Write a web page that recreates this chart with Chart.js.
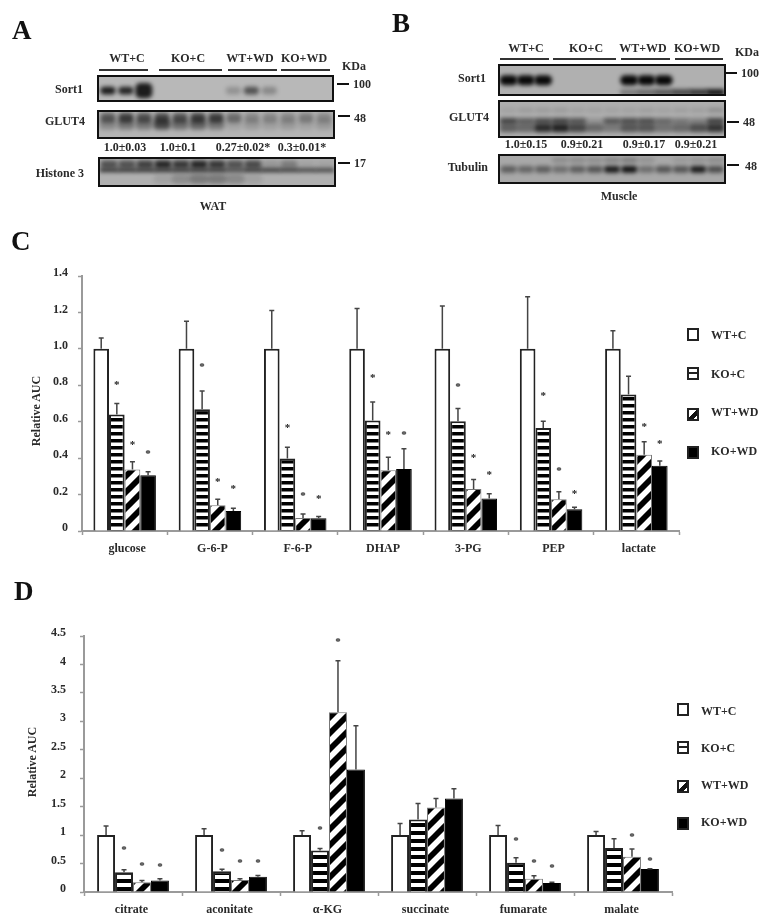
<!DOCTYPE html>
<html>
<head>
<meta charset="utf-8">
<title>Sort1 figure</title>
<script src="https://cdn.jsdelivr.net/npm/chart.js@4"></script>
<style>
html, body { margin: 0; padding: 0; background: #fff; }
#page { position: relative; width: 776px; height: 923px; overflow: hidden; filter: blur(0.6px); font-family: "Liberation Serif", serif; font-weight: bold; font-size: 12px; color: #2a2a2a; }
#page canvas { position: absolute; }
.t { position: absolute; white-space: nowrap; line-height: 1; }
.c { transform: translate(-50%, -50%); }
.r { transform: translate(-100%, -50%); }
.l { transform: translateY(-50%); }
.letter { font-size: 27px; color: #111; }
.bar { position: absolute; height: 2px; background: #333; }
.tick { position: absolute; height: 2px; width: 12px; background: #111; }
.blot { position: absolute; border: 2px solid #111; box-sizing: border-box; overflow: hidden; }
.blot canvas { position: absolute; left: 0; top: 0; }
.ytitle { position: absolute; transform: translate(-50%, -50%) rotate(-90deg); white-space: nowrap; line-height: 1; }
.sw { position: absolute; width: 12px; height: 13px; box-sizing: border-box; border: 2px solid #222; background: #fff; }
.sw1 { background: linear-gradient(#fff 0 35%, #222 35% 60%, #fff 60%); }
.sw2 { background: linear-gradient(135deg, #fff 0 42%, #111 42% 78%, #fff 78%); }
.sw3 { background: #000; }
</style>
</head>
<body>
<div id="page">
  <div class="t letter l" style="left:12px;top:30px">A</div>
  <div class="t letter l" style="left:392px;top:23px">B</div>
  <div class="t letter l" style="left:11px;top:241px">C</div>
  <div class="t letter l" style="left:14px;top:591px">D</div>

  <div class="t c" style="left:127px;top:58px">WT+C</div>
  <div class="t c" style="left:188px;top:58px">KO+C</div>
  <div class="t c" style="left:250px;top:58px">WT+WD</div>
  <div class="t c" style="left:304px;top:58px">KO+WD</div>
  <div class="bar" style="left:99px;top:69px;width:49px"></div>
  <div class="bar" style="left:159px;top:69px;width:63px"></div>
  <div class="bar" style="left:228px;top:69px;width:49px"></div>
  <div class="bar" style="left:281px;top:69px;width:49px"></div>
  <div class="t l" style="left:342px;top:66px">KDa</div>
  <div class="t r" style="left:83px;top:89px">Sort1</div>
  <div class="t r" style="left:85px;top:121px">GLUT4</div>
  <div class="t r" style="left:84px;top:173px">Histone 3</div>
  <div class="tick" style="left:337px;top:83px"></div>
  <div class="tick" style="left:338px;top:115px"></div>
  <div class="tick" style="left:338px;top:162px"></div>
  <div class="t l" style="left:353px;top:84px">100</div>
  <div class="t l" style="left:354px;top:118px">48</div>
  <div class="t l" style="left:354px;top:163px">17</div>
  <div class="t c" style="left:125px;top:147px">1.0±0.03</div>
  <div class="t c" style="left:178px;top:147px">1.0±0.1</div>
  <div class="t c" style="left:243px;top:147px">0.27±0.02*</div>
  <div class="t c" style="left:302px;top:147px">0.3±0.01*</div>
  <div class="t c" style="left:213px;top:206px">WAT</div>

  <div class="t c" style="left:526px;top:48px">WT+C</div>
  <div class="t c" style="left:586px;top:48px">KO+C</div>
  <div class="t c" style="left:643px;top:48px">WT+WD</div>
  <div class="t c" style="left:697px;top:48px">KO+WD</div>
  <div class="bar" style="left:500px;top:58px;width:49px"></div>
  <div class="bar" style="left:553px;top:58px;width:63px"></div>
  <div class="bar" style="left:621px;top:58px;width:49px"></div>
  <div class="bar" style="left:675px;top:58px;width:48px"></div>
  <div class="t l" style="left:735px;top:52px">KDa</div>
  <div class="t r" style="left:486px;top:78px">Sort1</div>
  <div class="t r" style="left:489px;top:117px">GLUT4</div>
  <div class="t r" style="left:488px;top:167px">Tubulin</div>
  <div class="tick" style="left:725px;top:72px"></div>
  <div class="tick" style="left:727px;top:121px"></div>
  <div class="tick" style="left:727px;top:164px"></div>
  <div class="t l" style="left:741px;top:73px">100</div>
  <div class="t l" style="left:743px;top:122px">48</div>
  <div class="t l" style="left:745px;top:166px">48</div>
  <div class="t c" style="left:526px;top:144px">1.0±0.15</div>
  <div class="t c" style="left:582px;top:144px">0.9±0.21</div>
  <div class="t c" style="left:644px;top:144px">0.9±0.17</div>
  <div class="t c" style="left:696px;top:144px">0.9±0.21</div>
  <div class="t c" style="left:619px;top:196px">Muscle</div>

  <div class="blot" id="blotA1" style="left:97px;top:75px;width:237px;height:27px;background:#b8b8b8"></div>
  <div class="blot" id="blotA2" style="left:97px;top:110px;width:238px;height:29px;background:#b4b4b4"></div>
  <div class="blot" id="blotA3" style="left:98px;top:157px;width:238px;height:30px;background:#b0b0b0"></div>
  <div class="blot" id="blotB1" style="left:498px;top:64px;width:228px;height:32px;background:#b0b0b0"></div>
  <div class="blot" id="blotB2" style="left:498px;top:100px;width:228px;height:38px;background:#aeaeae"></div>
  <div class="blot" id="blotB3" style="left:498px;top:154px;width:228px;height:30px;background:#a8a8a8"></div>

  <canvas id="chartC" width="776" height="320" style="left:0;top:250px;width:776px;height:320px"></canvas>
  <canvas id="chartD" width="776" height="340" style="left:0;top:583px;width:776px;height:340px"></canvas>

  <div class="ytitle" style="left:36px;top:411px">Relative AUC</div>
  <div class="ytitle" style="left:32px;top:762px">Relative AUC</div>

  <div id="legendC"></div>
  <div id="legendD"></div>
</div>

<script>
var seriesNames = ['WT+C', 'KO+C', 'WT+WD', 'KO+WD'];

// panel C
var labelsC = ['glucose', 'G-6-P', 'F-6-P', 'DHAP', '3-PG', 'PEP', 'lactate'];
var ticksC = [0, 0.2, 0.4, 0.6, 0.8, 1.0, 1.2, 1.4];
var wtC = [1, 1, 1, 1, 1, 1, 1];
var koC = [0.64, 0.668, 0.398, 0.606, 0.602, 0.565, 0.75];
var wtwdC = [0.338, 0.141, 0.072, 0.334, 0.231, 0.174, 0.418];
var kowdC = [0.306, 0.11, 0.07, 0.341, 0.178, 0.119, 0.358];
var wtErrC = [1.059, 1.152, 1.211, 1.222, 1.235, 1.286, 1.10];
var koErrC = [0.70, 0.769, 0.46, 0.708, 0.672, 0.602, 0.85];
var wtwdErrC = [0.38, 0.174, 0.094, 0.405, 0.283, 0.215, 0.49];
var kowdErrC = [0.325, 0.125, 0.079, 0.451, 0.204, 0.13, 0.385];
var koStarC = [0.811, 0.91, 0.578, 0.851, 0.80, 0.752, null];
var wtwdStarC = [0.484, 0.281, 0.2, 0.536, 0.409, 0.341, 0.582];
var kowdStarC = [0.433, 0.239, 0.187, 0.539, 0.319, 0.215, 0.486];

// panel D
var labelsD = ['citrate', 'aconitate', 'α-KG', 'succinate', 'fumarate', 'malate'];
var ticksD = [0, 0.5, 1, 1.5, 2, 2.5, 3, 3.5, 4, 4.5];
var wtD = [1, 1, 1, 1, 1, 1];
var koD = [0.345, 0.363, 0.73, 1.275, 0.515, 0.772];
var wtwdD = [0.17, 0.21, 3.158, 1.485, 0.234, 0.62];
var kowdD = [0.2, 0.27, 2.152, 1.643, 0.158, 0.404];
var wtErrD = [1.158, 1.11, 1.076, 1.205, 1.17, 1.064];
var koErrD = [0.39, 0.40, 0.766, 1.556, 0.602, 0.936];
var wtwdErrD = [0.2, 0.234, 4.064, 1.643, 0.287, 0.754];
var kowdErrD = [0.234, 0.292, 2.924, 1.813, 0.17, 0.41];
var koStarD = [0.766, 0.731, 1.123, null, 0.936, null];
var wtwdStarD = [0.497, 0.544, 4.433, null, 0.55, 0.994];
var kowdStarD = [0.474, 0.544, null, null, 0.462, 0.579];

// blot band strength per lane, 13 lanes per panel
var lanes = ['1', '2', '3', '4', '5', '6', '7', '8', '9', '10', '11', '12', '13'];
var a1Band = [0.85, 0.8, 0, 0, 0, 0, 0, 0.2, 0.55, 0.25, 0, 0, 0];
var a1Big = [0, 0, 0.85, 0, 0, 0, 0, 0, 0, 0, 0, 0, 0];
var a2Top = [0.5, 0.65, 0.55, 0.6, 0.55, 0.65, 0.65, 0.4, 0.25, 0.25, 0.25, 0.3, 0.25];
var a2Low = [0.25, 0.35, 0.35, 0.6, 0.4, 0.45, 0.35, 0.1, 0.15, 0.12, 0.15, 0.1, 0.15];
var a3Top = [0.55, 0.55, 0.65, 0.8, 0.7, 0.8, 0.7, 0.55, 0.6, 0.15, 0.3, 0.08, 0.08];
var a3Line = [0.85, 0.85, 0.85, 0.85, 0.85, 0.85, 0.85, 0.7, 0.85, 0.85, 0.8, 0.75, 0.75];
var a3Smear = [0, 0, 0, 0.08, 0.2, 0.3, 0.3, 0.22, 0.08, 0, 0, 0, 0];
var b1Band = [0.95, 0.95, 0.95, 0, 0, 0, 0, 0.95, 0.95, 0.95, 0, 0, 0];
var b1Wedge = [0, 0, 0, 0, 0, 0, 0, 0.3, 0.4, 0.5, 0.6, 0.7, 0.9];
var b2Faint = [0.08, 0.12, 0.12, 0.12, 0.08, 0.08, 0.08, 0.08, 0.1, 0.08, 0.1, 0.1, 0.2];
var b2Top = [0.6, 0.45, 0.55, 0.6, 0.5, 0.15, 0.5, 0.55, 0.55, 0.4, 0.3, 0.25, 0.6];
var b2Low = [0.45, 0.4, 0.75, 0.8, 0.6, 0.4, 0.3, 0.5, 0.5, 0.35, 0.4, 0.55, 0.7];
var b3Faint = [0, 0, 0, 0.2, 0.2, 0.18, 0.25, 0.3, 0.15, 0, 0.1, 0.15, 0.2];
var b3Band = [0.45, 0.4, 0.45, 0.35, 0.45, 0.5, 0.85, 0.9, 0.35, 0.5, 0.5, 0.85, 0.55];

function stripes(size) {
  var c = document.createElement('canvas');
  c.width = size;
  c.height = size;
  var x = c.getContext('2d');
  x.fillStyle = '#fff';
  x.fillRect(0, 0, size, size);
  x.fillStyle = '#000';
  x.fillRect(0, 0, size, size / 2);
  return x.createPattern(c, 'repeat');
}

function diagonal(size) {
  var c = document.createElement('canvas');
  c.width = size;
  c.height = size;
  var x = c.getContext('2d');
  x.fillStyle = '#fff';
  x.fillRect(0, 0, size, size);
  x.strokeStyle = '#000';
  x.lineWidth = size * 0.36;
  x.beginPath();
  x.moveTo(-size / 2, size / 2);
  x.lineTo(size / 2, -size / 2);
  x.moveTo(0, size);
  x.lineTo(size, 0);
  x.moveTo(size / 2, size * 1.5);
  x.lineTo(size * 1.5, size / 2);
  x.stroke();
  return x.createPattern(c, 'repeat');
}

// error bars and asterisks, taken from the dataset arrays
var marksPlugin = {
  id: 'marks',
  afterDatasetsDraw: function(chart) {
    var ctx = chart.ctx;
    var y = chart.scales.y;
    chart.data.datasets.forEach(function(ds, i) {
      var meta = chart.getDatasetMeta(i);
      meta.data.forEach(function(bar, j) {
        if (ds.errTop[j] != null && ds.errTop[j] > ds.data[j]) {
          var py = y.getPixelForValue(ds.errTop[j]);
          ctx.save();
          ctx.strokeStyle = '#444';
          ctx.lineWidth = 1.5;
          ctx.beginPath();
          ctx.moveTo(bar.x, bar.y);
          ctx.lineTo(bar.x, py);
          ctx.moveTo(bar.x - 2.5, py);
          ctx.lineTo(bar.x + 2.5, py);
          ctx.stroke();
          ctx.restore();
        }
        if (ds.star[j] != null) {
          ctx.save();
          ctx.fillStyle = '#222';
          ctx.font = 'bold 11px "Liberation Serif"';
          ctx.textAlign = 'center';
          ctx.textBaseline = 'middle';
          ctx.fillText('*', bar.x, y.getPixelForValue(ds.star[j]) + 2);
          ctx.restore();
        }
      });
    });
  }
};

function barChart(id, labels, ticks, maxY, series, errs, stars, box) {
  var fills = ['#fff', stripes(box.stripe), diagonal(16), '#000'];
  var edges = ['#222', '#222', '#777', '#000'];
  var widths = [2, 2, 1, 1];
  var datasets = [];
  for (var i = 0; i < seriesNames.length; i++) {
    datasets.push({
      label: seriesNames[i],
      data: series[i],
      errTop: errs[i],
      star: stars[i],
      backgroundColor: fills[i],
      borderColor: edges[i],
      borderWidth: widths[i],
      barPercentage: 1,
      categoryPercentage: 0.733
    });
  }
  return new Chart(document.getElementById(id), {
    type: 'bar',
    data: { labels: labels, datasets: datasets },
    plugins: [marksPlugin],
    options: {
      responsive: false,
      animation: false,
      layout: { padding: { top: box.top, right: box.right, left: 0, bottom: 0 } },
      plugins: { legend: { display: false }, tooltip: { enabled: false } },
      scales: {
        x: {
          afterFit: function(s) { s.height = box.xHeight; },
          border: { color: '#9a9a9a', width: 2 },
          grid: { drawOnChartArea: false, color: '#9a9a9a', tickLength: 4, tickWidth: 1.5 },
          ticks: {
            color: '#2a2a2a',
            padding: box.xPad,
            labelOffset: box.xOffset,
            maxRotation: 0,
            autoSkip: false,
            font: { family: 'Liberation Serif', weight: 'bold', size: 12 }
          }
        },
        y: {
          min: 0,
          max: maxY,
          afterFit: function(s) { s.width = box.left; },
          afterBuildTicks: function(s) {
            s.ticks = ticks.map(function(v) { return { value: v }; });
          },
          border: { color: '#9a9a9a', width: 2 },
          grid: { drawOnChartArea: false, color: '#9a9a9a', tickLength: 4, tickWidth: 1.5 },
          ticks: {
            color: '#2a2a2a',
            padding: box.yPad,
            labelOffset: -3,
            font: { family: 'Liberation Serif', weight: 'bold', size: 12 },
            callback: function(v) { return box.fixed && v !== 0 ? v.toFixed(1) : String(v); }
          }
        }
      }
    }
  });
}

barChart('chartC', labelsC, ticksC, 1.4,
  [wtC, koC, wtwdC, kowdC],
  [wtErrC, koErrC, wtwdErrC, kowdErrC],
  [[], koStarC, wtwdStarC, kowdStarC],
  { top: 26, right: 97, left: 82, xHeight: 39, xPad: 7, xOffset: 2.5, yPad: 10, fixed: true, stripe: 7 });

barChart('chartD', labelsD, ticksD, 4.5,
  [wtD, koD, wtwdD, kowdD],
  [wtErrD, koErrD, wtwdErrD, kowdErrD],
  [[], koStarD, wtwdStarD, kowdStarD],
  { top: 53, right: 104, left: 84, xHeight: 31, xPad: 7, xOffset: -1.5, yPad: 14, fixed: false, stripe: 8 });

// blurred floating bars, y runs 0 to 100 from the top of the panel
var blurPlugin = {
  id: 'blur',
  beforeDatasetsDraw: function(chart) {
    chart.ctx.save();
    chart.ctx.filter = 'blur(2px)';
  },
  afterDatasetsDraw: function(chart) {
    chart.ctx.restore();
  }
};

function blot(id, rows) {
  var box = document.getElementById(id);
  var canvas = document.createElement('canvas');
  canvas.width = box.clientWidth;
  canvas.height = box.clientHeight;
  canvas.style.width = box.clientWidth + 'px';
  canvas.style.height = box.clientHeight + 'px';
  box.appendChild(canvas);
  var datasets = rows.map(function(row) {
    return {
      data: row.levels.map(function() { return [row.from, row.to]; }),
      backgroundColor: row.levels.map(function(v) { return 'rgba(0,0,0,' + v + ')'; }),
      borderWidth: 0,
      borderRadius: row.round,
      borderSkipped: false,
      barPercentage: row.wide,
      categoryPercentage: 1,
      grouped: false
    };
  });
  new Chart(canvas, {
    type: 'bar',
    data: { labels: lanes, datasets: datasets },
    plugins: [blurPlugin],
    options: {
      responsive: false,
      animation: false,
      clip: false,
      plugins: { legend: { display: false }, tooltip: { enabled: false } },
      scales: {
        x: { display: false },
        y: { display: false, min: 0, max: 100, reverse: true }
      }
    }
  });
}

blot('blotA1', [
  { levels: a1Band, from: 42, to: 76, round: 4, wide: 0.85 },
  { levels: a1Big, from: 26, to: 92, round: 5, wide: 0.95 }
]);
blot('blotA2', [
  { levels: a2Low, from: 28, to: 70, round: 4, wide: 0.95 },
  { levels: a2Top, from: 4, to: 42, round: 4, wide: 0.85 }
]);
blot('blotA3', [
  { levels: a3Smear, from: 58, to: 95, round: 4, wide: 1 },
  { levels: a3Top, from: 6, to: 36, round: 3, wide: 0.95 },
  { levels: a3Line, from: 38, to: 48, round: 0, wide: 1 }
]);
blot('blotB1', [
  { levels: b1Band, from: 34, to: 68, round: 6, wide: 1 },
  { levels: b1Wedge, from: 84, to: 104, round: 0, wide: 1 }
]);
blot('blotB2', [
  { levels: b2Faint, from: 18, to: 30, round: 2, wide: 0.95 },
  { levels: b2Top, from: 48, to: 64, round: 3, wide: 1 },
  { levels: b2Low, from: 64, to: 88, round: 3, wide: 1 }
]);
blot('blotB3', [
  { levels: b3Faint, from: 8, to: 24, round: 2, wide: 0.95 },
  { levels: b3Band, from: 38, to: 64, round: 4, wide: 0.95 }
]);

// html legends, swatch styles sw0..sw3 follow the series order
function legend(id, swatchX, textX, swatchTops, textTops) {
  var html = '';
  for (var i = 0; i < seriesNames.length; i++) {
    html += '<div class="sw sw' + i + '" style="left:' + swatchX + 'px;top:' + swatchTops[i] + 'px"></div>';
    html += '<div class="t l" style="left:' + textX + 'px;top:' + textTops[i] + 'px">' + seriesNames[i] + '</div>';
  }
  document.getElementById(id).innerHTML = html;
}

legend('legendC', 687, 711, [328, 367, 408, 446], [335, 374, 412, 451]);
legend('legendD', 677, 701, [703, 741, 780, 817], [711, 748, 785, 822]);
</script>
</body>
</html>
